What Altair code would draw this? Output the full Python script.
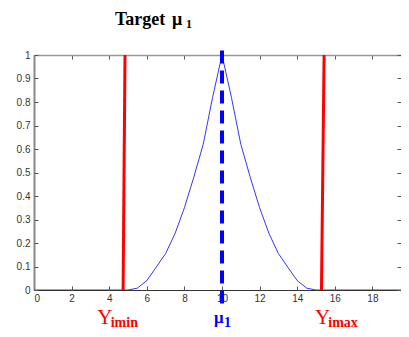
import altair as alt
import pandas as pd

# Membership-like curve around the target mu_1
curve_x = [0, 5, 5.5, 6, 6.5, 7, 7.5, 8, 8.5, 9, 9.5, 10,
           10.5, 11, 11.5, 12, 12.5, 13, 13.5, 14, 14.5, 15, 20]
curve_y = [0, 0, 0.008, 0.04, 0.097, 0.155, 0.24, 0.35, 0.48, 0.62, 0.82, 1.0,
           0.82, 0.62, 0.48, 0.35, 0.24, 0.155, 0.097, 0.04, 0.008, 0, 0]

# Red limit lines Y_imin / Y_imax (slightly slanted)
limit_x_bottom = [4.74, 15.29]
limit_x_top = [4.84, 15.43]
limit_y_bottom = [0, 0]
limit_y_top = [1, 1]

# Blue dashed line at mu_1
mu_x = [10]
mu_y_bottom = [-0.057]
mu_y_top = [1.043]

x_ticks = [0, 2, 4, 6, 8, 10, 12, 14, 16, 18, 20]
y_ticks = [0, 0.1, 0.2, 0.3, 0.4, 0.5, 0.6, 0.7, 0.8, 0.9, 1]

# visible part of the x range (the right end is cut by the window)
X_MAX = 19.52
W, H = 367, 235

df_curve = pd.DataFrame({"x": curve_x, "y": curve_y})
df_limits = pd.DataFrame({"x": limit_x_bottom, "x2": limit_x_top,
                          "y": limit_y_bottom, "y2": limit_y_top})
df_mu = pd.DataFrame({"x": mu_x, "y": mu_y_bottom, "y2": mu_y_top})
df_one = pd.DataFrame({"k": [0]})

xs = alt.Scale(domain=[0, X_MAX], nice=False, zero=False)
ys = alt.Scale(domain=[0, 1], nice=False, zero=False)

LBL = dict(labelFont="Liberation Sans", labelFontSize=10, labelColor="#333333")
TICKS = dict(labels=False, ticks=True, tickSize=4, tickColor="#555555", tickWidth=1,
             grid=False, title=None)

curve = alt.Chart(df_curve).mark_line(color="#3535ff", strokeWidth=1, clip=True).encode(
    x=alt.X("x:Q", scale=xs, axis=alt.Axis(values=x_ticks, orient="bottom", ticks=False,
                                           domainColor="#333333", domainWidth=1,
                                           labelPadding=3, grid=False, title=None, **LBL)),
    y=alt.Y("y:Q", scale=ys, axis=alt.Axis(values=y_ticks, orient="left", ticks=False,
                                           format=".1~f",
                                           domainColor="#888888", domainWidth=2,
                                           labelPadding=4, grid=False, title=None, **LBL)),
)

limits = alt.Chart(df_limits).mark_rule(color="#ff0000", strokeWidth=3).encode(
    x=alt.X("x:Q", scale=xs, axis=alt.Axis(values=x_ticks, orient="top", offset=-H,
                                           domain=False, **TICKS)),
    x2="x2:Q",
    y=alt.Y("y:Q", scale=ys, axis=alt.Axis(values=y_ticks, orient="right", offset=-W,
                                           domain=False, **TICKS)),
    y2="y2:Q",
)

mu_line = alt.Chart(df_mu).mark_rule(color="#0000ff", strokeWidth=4,
                                     strokeDash=[13, 7]).encode(
    x=alt.X("x:Q", scale=xs, axis=alt.Axis(values=x_ticks, orient="bottom", offset=-H,
                                           domain=True, domainColor="#999999",
                                           domainWidth=1.5, **TICKS)),
    y=alt.Y("y:Q", scale=ys, axis=alt.Axis(values=y_ticks, orient="left", offset=-W,
                                           domain=False, **TICKS)),
    y2="y2:Q",
)


def txt(s, x, y, size, color, weight="normal", font="Liberation Serif"):
    return alt.Chart(df_one).mark_text(
        align="left", baseline="alphabetic", font=font, fontSize=size,
        fontWeight=weight, color=color
    ).encode(x=alt.value(x), y=alt.value(y), text=alt.value(s))


texts = [
    txt("Target", 81, -30.5, 18, "#000000", "bold"),
    txt("μ", 138, -30.5, 18, "#000000", "bold"),
    txt("1", 152, -27, 12, "#000000", "bold"),
    txt("Y", 63.3, 268.5, 21, "#ff0000"),
    txt("imin", 76.7, 272, 14, "#ff0000", "bold"),
    txt("μ", 180, 268, 17, "#0000ff", "bold"),
    txt("1", 190, 272, 14, "#0000ff", "bold"),
    txt("Y", 281, 268.5, 21, "#ff0000"),
    txt("imax", 294.3, 272, 14, "#ff0000", "bold"),
]

chart = alt.layer(curve, limits, mu_line, *texts).properties(
    width=W, height=H,
    padding={"left": 26, "top": 47, "right": 0, "bottom": 39},
    autosize=alt.AutoSizeParams(type="none"),
).resolve_axis(x="independent", y="independent").configure_view(stroke=None)

chart.save("out.html", embed_options={"renderer": "svg", "actions": False})
